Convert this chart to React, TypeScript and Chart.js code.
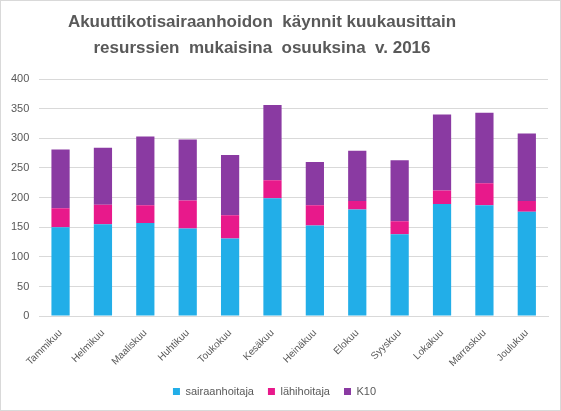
import React, { useEffect, useRef } from "react";
import { Chart, registerables } from "chart.js";

Chart.register(...registerables);

const months = [
  "Tammikuu", "Helmikuu", "Maaliskuu", "Huhtikuu", "Toukokuu", "Kesäkuu",
  "Heinäkuu", "Elokuu", "Syyskuu", "Lokakuu", "Marraskuu", "Joulukuu",
];
const sairaanhoitaja = [150, 155, 157, 148, 131, 199, 153, 180, 138, 189, 187, 176];
const lahihoitaja = [32, 33, 30, 47, 39, 30, 34, 14, 22, 23, 37, 18];
const k10 = [99, 96, 116, 103, 102, 127, 73, 85, 103, 128, 119, 114];
const titleLines = [
  "Akuuttikotisairaanhoidon  käynnit kuukausittain",
  "resurssien  mukaisina  osuuksina  v. 2016",
];

const FONT = "'Liberation Sans', Arial, sans-serif";

const titlePlugin = {
  id: "customTitle",
  afterDraw(chart: any) {
    const ctx = chart.ctx;
    ctx.save();
    ctx.fillStyle = "#595959";
    ctx.font = `bold 17px ${FONT}`;
    ctx.textAlign = "center";
    ctx.textBaseline = "middle";
    ctx.fillText(titleLines[0], 261, 21);
    ctx.fillText(titleLines[1], 261, 47);
    ctx.restore();
  },
};

export default function App() {
  const ref = useRef<HTMLCanvasElement>(null);
  useEffect(() => {
    if (!ref.current) return;
    const chart = new Chart(ref.current, {
      type: "bar",
      data: {
        labels: months,
        datasets: [
          { label: "sairaanhoitaja", data: sairaanhoitaja, backgroundColor: "#22aee8" },
          { label: "lähihoitaja", data: lahihoitaja, backgroundColor: "#e8198b" },
          { label: "K10", data: k10, backgroundColor: "#8a3aa2" },
        ],
      },
      plugins: [titlePlugin],
      options: {
        responsive: false,
        animation: false,
        devicePixelRatio: 1,
        layout: { padding: { left: 0, right: 12, top: 78, bottom: 3 } },
        datasets: { bar: { categoryPercentage: 1, barPercentage: 0.43 } },
        plugins: {
          title: { display: false },
          legend: {
            position: "bottom",
            labels: {
              boxWidth: 7,
              boxHeight: 7,
              color: "#595959",
              font: { family: FONT, size: 11 },
              padding: 14,
            },
          },
          tooltip: { enabled: false },
        },
        scales: {
          x: {
            stacked: true,
            grid: { display: false },
            border: { color: "#d9d9d9" },
            ticks: {
              color: "#595959",
              font: { family: FONT, size: 10 },
              maxRotation: 45,
              minRotation: 45,
              padding: 3,
            },
          },
          y: {
            stacked: true,
            min: 0,
            max: 400,
            ticks: {
              stepSize: 50,
              color: "#595959",
              font: { family: FONT, size: 11 },
              padding: 10,
            },
            grid: { color: "#d9d9d9", drawTicks: false },
            border: { display: false },
          },
        },
      },
    });
    return () => chart.destroy();
  }, []);
  return (
    <div
      style={{
        position: "fixed",
        left: 0,
        top: 0,
        width: 561,
        height: 411,
        boxSizing: "border-box",
        border: "1px solid #d9d9d9",
        background: "#fff",
      }}
    >
      <canvas ref={ref} width={559} height={409} style={{ display: "block" }} />
    </div>
  );
}
